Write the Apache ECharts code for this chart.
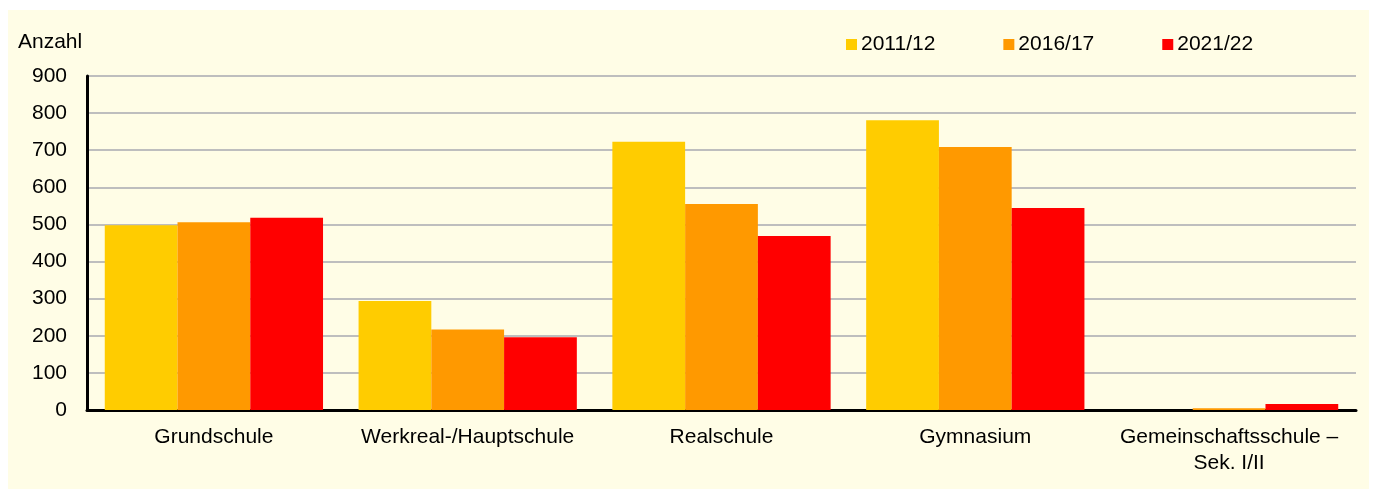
<!DOCTYPE html>
<html>
<head>
<meta charset="utf-8">
<script src="https://cdn.jsdelivr.net/npm/echarts@6/dist/echarts.min.js"></script>
<style>
html,body{margin:0;padding:0;background:#ffffff;}
#main{width:1375px;height:490px;}
</style>
</head>
<body>
<div id="main"></div>
<script>
const categories = ['Grundschule', 'Werkreal-/Hauptschule', 'Realschule', 'Gymnasium', 'Gemeinschaftsschule –\nSek. I/II'];
const seriesNames = ['2011/12', '2016/17', '2021/22'];
const values2011 = [498, 294, 723, 781, 0];
const values2016 = [506, 217, 555, 709, 5];
const values2021 = [518, 196, 469, 544, 16];
const yTicks = [0, 100, 200, 300, 400, 500, 600, 700, 800, 900];
const colors = ['#FFCC00', '#FF9900', '#FF0000'];

const chart = echarts.init(document.getElementById('main'), null, {renderer: 'canvas'});
const font = '"Liberation Sans", Arial, sans-serif';
const allValues = [values2011, values2016, values2021];

chart.setOption({
  backgroundColor: '#ffffff',
  animation: false,
  textStyle: {fontFamily: font, color: '#000'},
  graphic: [
    {type: 'rect', z: -10, silent: true, shape: {x: 8, y: 10, width: 1361, height: 479}, style: {fill: '#FFFDE6'}},
    {type: 'text', left: 18, top: 32, style: {text: 'Anzahl', font: '21px ' + font, fill: '#000'}}
  ],
  legend: {
    left: 841, top: 29,
    icon: 'rect', itemWidth: 11, itemHeight: 11, itemGap: 68,
    textStyle: {fontSize: 21, fontFamily: font, color: '#000', padding: [0, 0, 0, -1]},
    data: seriesNames
  },
  grid: {left: 87, right: 19, top: 76, bottom: 80, containLabel: false},
  xAxis: {
    type: 'category',
    data: categories,
    axisLine: {show: true, lineStyle: {color: '#000', width: 3}},
    axisTick: {show: false},
    axisLabel: {fontSize: 21, fontFamily: font, color: '#000', margin: 14, lineHeight: 26, interval: 0}
  },
  yAxis: {
    type: 'value',
    min: yTicks[0], max: yTicks[yTicks.length - 1], interval: 100,
    axisLine: {show: true, lineStyle: {color: '#000', width: 3}},
    axisTick: {show: false},
    axisLabel: {fontSize: 21, fontFamily: font, color: '#000', margin: 20},
    splitLine: {show: true, lineStyle: {color: '#BEBEBE', width: 2}}
  },
  series: seriesNames.map((name, i) => ({
    name: name,
    type: 'bar',
    data: allValues[i],
    itemStyle: {color: colors[i]},
    barGap: '0%',
    barCategoryGap: '14%'
  }))
});
</script>
</body>
</html>
